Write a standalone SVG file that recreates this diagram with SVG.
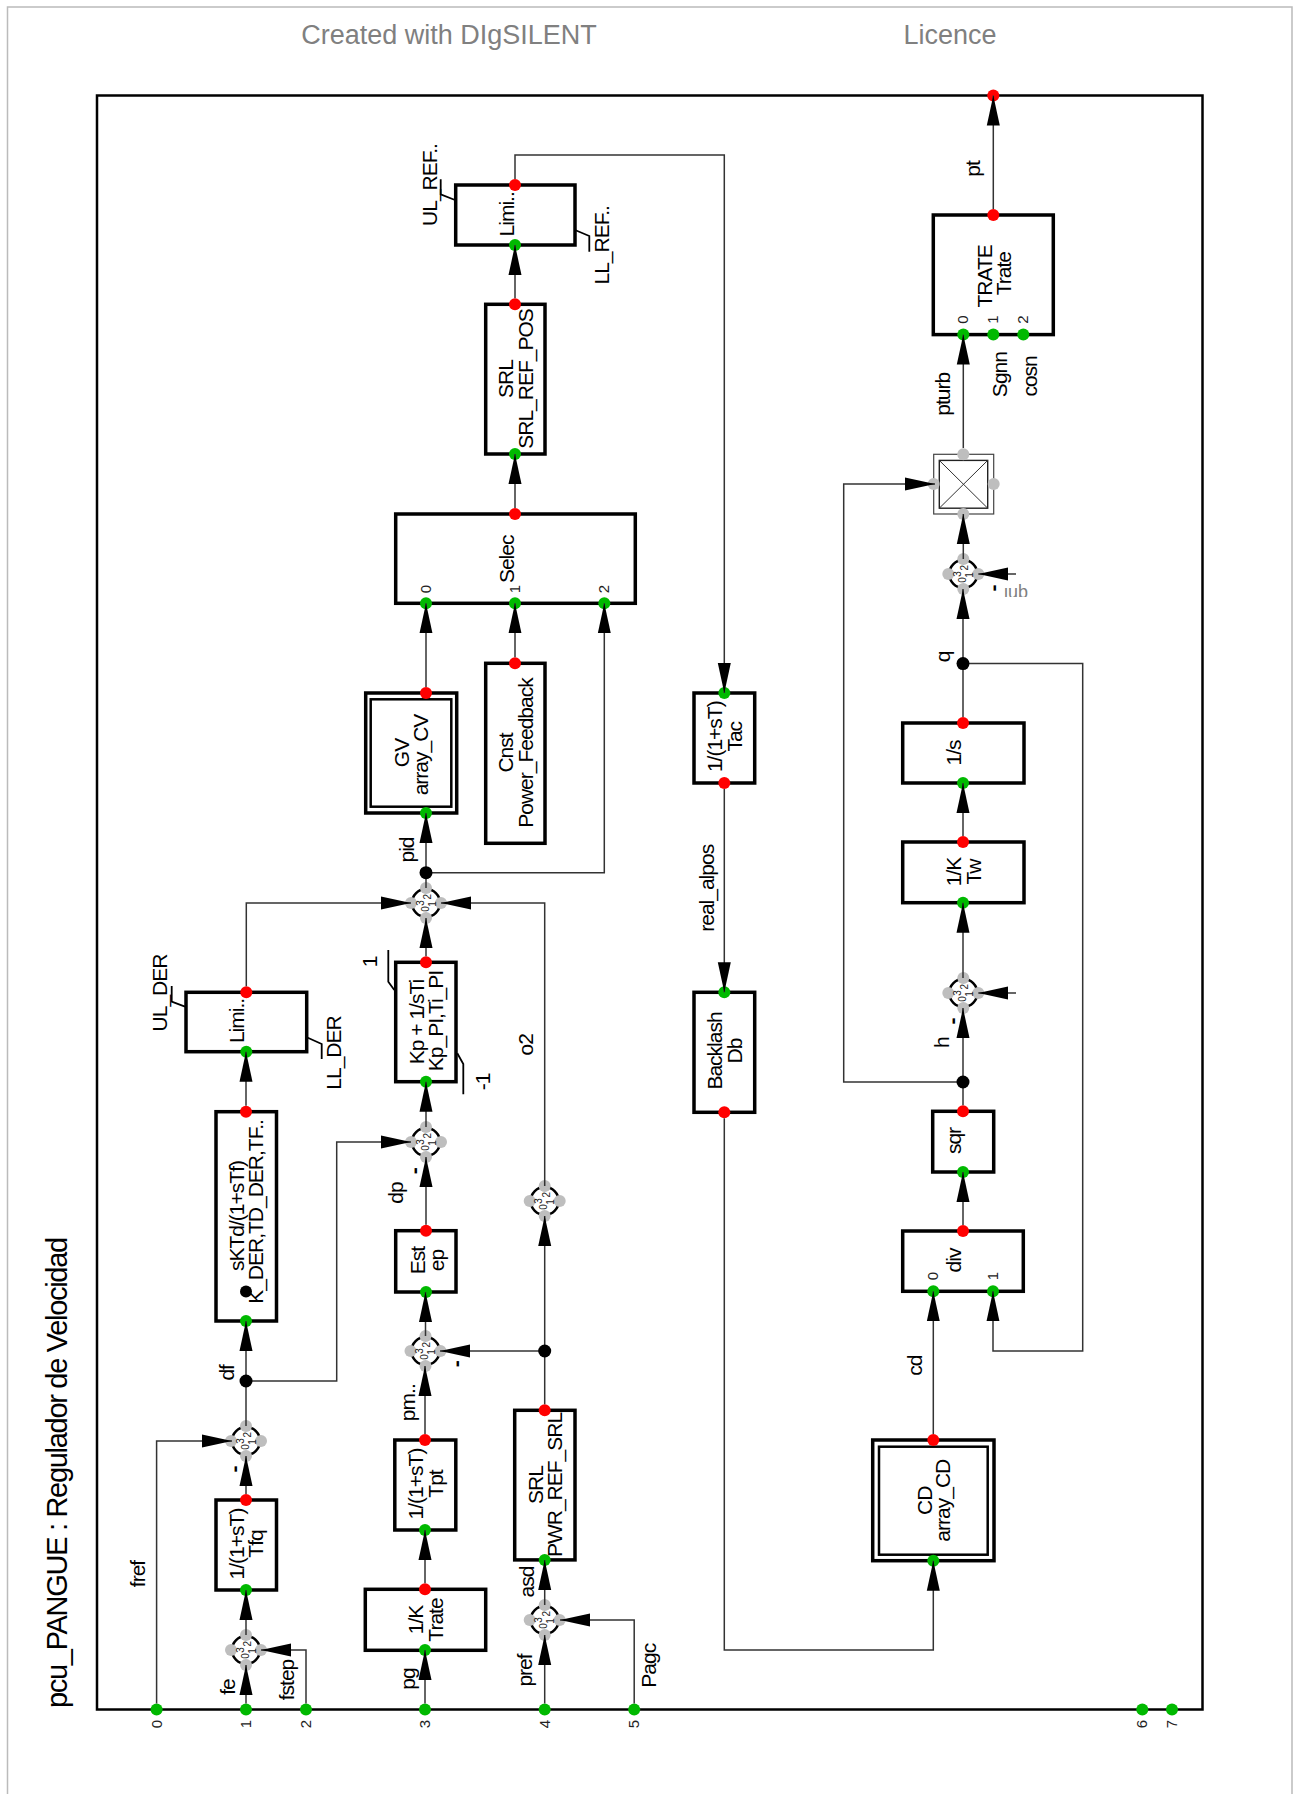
<svg xmlns="http://www.w3.org/2000/svg" width="1293" height="1794" viewBox="0 0 1293 1794">
<style>
text{font-family:"Liberation Sans",Arial,sans-serif;fill:#000}
.l{font-size:21px;letter-spacing:-1px;text-anchor:middle}
.m{font-size:21px;font-weight:bold;text-anchor:middle}
.p{font-size:15px;text-anchor:middle;fill:#222}
.s{font-size:10px;text-anchor:middle;fill:#222}
.h{font-size:27px;text-anchor:middle;fill:#808080}
.b{fill:#fff;stroke:#000;stroke-width:3.5}
.i{fill:none;stroke:#000;stroke-width:2.5}
.c{fill:none;stroke:#333;stroke-width:1.5}
.a{marker-end:url(#arrow)}
.t{fill:none;stroke:#000;stroke-width:1.8}
.g{fill:#00b900}.r{fill:#f00}.y{fill:#bebebe}.k{fill:#000}
.o{fill:#fff;stroke:#000;stroke-width:2.5}
</style>
<defs>
<marker id="arrow" markerUnits="userSpaceOnUse" markerWidth="30" markerHeight="14" refX="30" refY="7" orient="auto"><path d="M0 0.5L30 7L0 13.5Z" fill="#000"/></marker>
<clipPath id="qnlclip"><rect x="990" y="570" width="50" height="27"/></clipPath>
</defs>
<rect width="1293" height="1794" fill="#fff"/>
<path id="page" d="M7.5 1794V7H1292V1794" fill="none" stroke="#bbb" stroke-width="1.5"/>
<text class="h" x="449" y="44">Created with DIgSILENT</text>
<text class="h" x="950" y="44">Licence</text>
<text id="title" font-size="29" letter-spacing="-1.3" text-anchor="start" transform="rotate(-90 67 1708)" x="67" y="1708">pcu_PANGUE : Regulador de Velocidad</text>
<g id="frame">
<rect x="97" y="95.5" width="1105.5" height="1614" fill="none" stroke="#000" stroke-width="2.5"/>
<circle class="g" cx="156.6" cy="1709.5" r="6"/><circle class="g" cx="246" cy="1709.5" r="6"/><circle class="g" cx="306" cy="1709.5" r="6"/><circle class="g" cx="425" cy="1709.5" r="6"/><circle class="g" cx="544.7" cy="1709.5" r="6"/><circle class="g" cx="634.2" cy="1709.5" r="6"/><circle class="g" cx="1142.3" cy="1709.5" r="6"/><circle class="g" cx="1172" cy="1709.5" r="6"/><circle class="r" cx="993.3" cy="95.5" r="6"/>
<text class="p" transform="rotate(-90 161.6 1724)" x="161.6" y="1724">0</text>
<text class="p" transform="rotate(-90 251 1724)" x="251" y="1724">1</text>
<text class="p" transform="rotate(-90 311 1724)" x="311" y="1724">2</text>
<text class="p" transform="rotate(-90 430 1724)" x="430" y="1724">3</text>
<text class="p" transform="rotate(-90 549.7 1724)" x="549.7" y="1724">4</text>
<text class="p" transform="rotate(-90 639.2 1724)" x="639.2" y="1724">5</text>
<text class="p" transform="rotate(-90 1147.3 1724)" x="1147.3" y="1724">6</text>
<text class="p" transform="rotate(-90 1177 1724)" x="1177" y="1724">7</text>
</g>
<g id="node-tfq"><rect class="b" x="216" y="1500" width="60.5" height="90"/><circle class="g" cx="246" cy="1590" r="6"/><circle class="r" cx="246" cy="1500" r="6"/>
<text class="l" transform="rotate(-90 244 1544)" x="244" y="1544">1/(1+sT)</text><text class="l" transform="rotate(-90 263.4 1544)" x="263.4" y="1544">Tfq</text></g>
<g id="node-der"><rect class="b" x="216" y="1111.7" width="60.5" height="209.3"/><circle class="g" cx="246" cy="1321" r="6"/><circle class="r" cx="246" cy="1111.7" r="6"/>
<text class="l" transform="rotate(-90 244 1216)" x="244" y="1216">sKTd/(1+sTf)</text><text class="l" transform="rotate(-90 263.4 1212)" x="263.4" y="1212">K_DER,TD_DER,TF..</text><circle class="k" cx="246" cy="1291.6" r="6"/></g>
<g id="node-limder"><rect class="b" x="186" y="992.3" width="120.7" height="59.4"/><circle class="g" cx="246.3" cy="1051.7" r="6"/><circle class="r" cx="246.3" cy="992.3" r="6"/>
<text class="l" transform="rotate(-90 244.3 1021)" x="244.3" y="1021">Limi..</text>
<path class="t" d="M185 1006.7L171.7 1001.7V986M306.7 1037.3L321.7 1044V1059"/></g>
<g id="node-kp"><rect class="b" x="395.7" y="962.3" width="60.3" height="119.4"/><circle class="g" cx="426" cy="1081.7" r="6"/><circle class="r" cx="426" cy="962.3" r="6"/>
<text class="l" transform="rotate(-90 424 1022)" x="424" y="1022">Kp + 1/sTi</text><text class="l" transform="rotate(-90 443.4 1021)" x="443.4" y="1021">Kp_PI,Ti_PI</text>
<path class="t" d="M394.3 990L388.3 981.7V950M457.3 1053.3L463.3 1064V1094.3"/></g>
<g id="node-est"><rect class="b" x="395.7" y="1230.7" width="60.3" height="61.3"/><circle class="g" cx="426" cy="1292" r="6"/><circle class="r" cx="426" cy="1230.7" r="6"/>
<text class="l" transform="rotate(-90 425 1260.5)" x="425" y="1260.5">Est</text><text class="l" transform="rotate(-90 444 1260.5)" x="444" y="1260.5">ep</text></g>
<g id="node-tpt"><rect class="b" x="394.8" y="1440" width="61" height="90"/><circle class="g" cx="425" cy="1530" r="6"/><circle class="r" cx="425" cy="1440" r="6"/>
<text class="l" transform="rotate(-90 423 1484)" x="423" y="1484">1/(1+sT)</text><text class="l" transform="rotate(-90 443 1484)" x="443" y="1484">Tpt</text></g>
<g id="node-trate"><rect class="b" x="365.3" y="1589.3" width="120.4" height="61"/><circle class="g" cx="425" cy="1650" r="6"/><circle class="r" cx="425" cy="1589.3" r="6"/>
<text class="l" transform="rotate(-90 423 1620)" x="423" y="1620">1/K</text><text class="l" transform="rotate(-90 443 1620)" x="443" y="1620">Trate</text></g>
<g id="node-srlpwr"><rect class="b" x="514.7" y="1410.3" width="60.3" height="149.6"/><circle class="g" cx="544.7" cy="1559.9" r="6"/><circle class="r" cx="544.7" cy="1410.3" r="6"/>
<text class="l" transform="rotate(-90 542.7 1485)" x="542.7" y="1485">SRL</text><text class="l" transform="rotate(-90 562 1485)" x="562" y="1485">PWR_REF_SRL</text></g>
<g id="node-limref"><rect class="b" x="455.7" y="185" width="119.3" height="60"/><circle class="g" cx="515" cy="245" r="6"/><circle class="r" cx="515" cy="185" r="6"/>
<text class="l" transform="rotate(-90 514 214.3)" x="514" y="214.3">Limi..</text>
<path class="t" d="M455 200L440.7 194.3V179.3M575 230L589.3 236V251.7"/></g>
<g id="node-srlpos"><rect class="b" x="485.7" y="304.3" width="59.3" height="149.7"/><circle class="g" cx="515" cy="454" r="6"/><circle class="r" cx="515" cy="304.3" r="6"/>
<text class="l" transform="rotate(-90 513.3 379)" x="513.3" y="379">SRL</text><text class="l" transform="rotate(-90 532.7 379)" x="532.7" y="379">SRL_REF_POS</text></g>
<g id="node-selec"><rect class="b" x="395.7" y="514" width="239.6" height="89.3"/><circle class="g" cx="426" cy="603.3" r="6"/><circle class="g" cx="515" cy="603.3" r="6"/><circle class="g" cx="604.3" cy="603.3" r="6"/><circle class="r" cx="515" cy="514" r="6"/>
<text class="l" transform="rotate(-90 514 559.3)" x="514" y="559.3">Selec</text>
<text class="p" transform="rotate(-90 431 589)" x="431" y="589">0</text><text class="p" transform="rotate(-90 520 589)" x="520" y="589">1</text><text class="p" transform="rotate(-90 609 589)" x="609" y="589">2</text></g>
<g id="node-gv"><rect class="b" x="365.7" y="693" width="91" height="120"/><rect class="i" x="370.7" y="699.3" width="80.6" height="107.4"/><circle class="g" cx="426" cy="813" r="6"/><circle class="r" cx="426" cy="693" r="6"/>
<text class="l" transform="rotate(-90 409.3 753)" x="409.3" y="753">GV</text><text class="l" transform="rotate(-90 428.3 755)" x="428.3" y="755">array_CV</text></g>
<g id="node-cnst"><rect class="b" x="485.7" y="663.3" width="59.3" height="180"/><circle class="r" cx="515" cy="663.3" r="6"/>
<text class="l" transform="rotate(-90 513.3 753)" x="513.3" y="753">Cnst</text><text class="l" transform="rotate(-90 532.7 753)" x="532.7" y="753">Power_Feedback</text></g>
<g id="node-tac"><rect class="b" x="694" y="693" width="60.7" height="90"/><circle class="g" cx="724.3" cy="693" r="6"/><circle class="r" cx="724.3" cy="783" r="6"/>
<text class="l" transform="rotate(-90 722 736.7)" x="722" y="736.7">1/(1+sT)</text><text class="l" transform="rotate(-90 741.7 736.7)" x="741.7" y="736.7">Tac</text></g>
<g id="node-backlash"><rect class="b" x="694" y="992.3" width="60.7" height="120"/><circle class="g" cx="724.3" cy="992.3" r="6"/><circle class="r" cx="724.3" cy="1112.3" r="6"/>
<text class="l" transform="rotate(-90 721.7 1051)" x="721.7" y="1051">Backlash</text><text class="l" transform="rotate(-90 741.7 1051)" x="741.7" y="1051">Db</text></g>
<g id="node-cd"><rect class="b" x="872.7" y="1440" width="121.3" height="120.7"/><rect class="i" x="879" y="1446.7" width="108.7" height="108"/><circle class="g" cx="933.3" cy="1560.7" r="6"/><circle class="r" cx="933.3" cy="1440" r="6"/>
<text class="l" transform="rotate(-90 931.7 1500.7)" x="931.7" y="1500.7">CD</text><text class="l" transform="rotate(-90 950 1500.7)" x="950" y="1500.7">array_CD</text></g>
<g id="node-div"><rect class="b" x="902.7" y="1231" width="120.6" height="60.3"/><circle class="g" cx="933.3" cy="1291.3" r="6"/><circle class="g" cx="993" cy="1291.3" r="6"/><circle class="r" cx="963" cy="1231" r="6"/>
<text class="l" transform="rotate(-90 961 1260.5)" x="961" y="1260.5">div</text>
<text class="p" transform="rotate(-90 938.3 1276)" x="938.3" y="1276">0</text><text class="p" transform="rotate(-90 998.3 1276)" x="998.3" y="1276">1</text></g>
<g id="node-sqr"><rect class="b" x="932.7" y="1111.3" width="61" height="60.7"/><circle class="g" cx="963" cy="1172" r="6"/><circle class="r" cx="963" cy="1111.3" r="6"/>
<text class="l" transform="rotate(-90 961 1141)" x="961" y="1141">sqr</text></g>
<g id="node-tw"><rect class="b" x="902.7" y="842" width="121.3" height="60.7"/><circle class="g" cx="963" cy="902.7" r="6"/><circle class="r" cx="963" cy="842" r="6"/>
<text class="l" transform="rotate(-90 961 872)" x="961" y="872">1/K</text><text class="l" transform="rotate(-90 980.5 872)" x="980.5" y="872">Tw</text></g>
<g id="node-int"><rect class="b" x="902.7" y="723" width="121.3" height="60"/><circle class="g" cx="963" cy="783" r="6"/><circle class="r" cx="963" cy="723" r="6"/>
<text class="l" transform="rotate(-90 961 753)" x="961" y="753">1/s</text></g>
<g id="node-trate2"><rect class="b" x="933.3" y="215" width="120" height="119.6"/><circle class="g" cx="963.3" cy="334.6" r="6"/><circle class="g" cx="993.3" cy="334.6" r="6"/><circle class="g" cx="1023.3" cy="334.6" r="6"/><circle class="r" cx="993.3" cy="215" r="6"/>
<text class="l" transform="rotate(-90 991.7 276.4)" x="991.7" y="276.4">TRATE</text><text class="l" transform="rotate(-90 1011 273.6)" x="1011" y="273.6">Trate</text>
<text class="p" transform="rotate(-90 968.3 319.6)" x="968.3" y="319.6">0</text><text class="p" transform="rotate(-90 998.3 319.6)" x="998.3" y="319.6">1</text><text class="p" transform="rotate(-90 1028.3 319.6)" x="1028.3" y="319.6">2</text></g>
<g id="node-mult"><rect x="933.7" y="454.3" width="60" height="59.7" fill="#fff" stroke="#444" stroke-width="1.2"/><rect x="939.3" y="460.4" width="48.4" height="47.8" fill="#fff" stroke="#222" stroke-width="1.4"/><path d="M939.3 460.4L987.7 508.2M987.7 460.4L939.3 508.2" stroke="#333" stroke-width="1" fill="none"/><circle class="y" cx="963.3" cy="454.3" r="6"/><circle class="y" cx="963.3" cy="514" r="6"/><circle class="y" cx="933.7" cy="484" r="6"/><circle class="y" cx="993.7" cy="484" r="6"/></g>
<g id="sum-fe"><circle class="o" cx="246" cy="1650" r="14"/><circle class="y" cx="246" cy="1635" r="6"/><circle class="y" cx="246" cy="1665" r="6"/><circle class="y" cx="231" cy="1650" r="6"/><circle class="y" cx="261" cy="1650" r="6"/><text class="s" transform="rotate(-90 243.5 1650)" x="243.5" y="1650">3</text><text class="s" transform="rotate(-90 251 1643.7)" x="251" y="1643.7">2</text><text class="s" transform="rotate(-90 248.5 1656)" x="248.5" y="1656">0</text><text class="s" transform="rotate(-90 255.5 1651)" x="255.5" y="1651">1</text></g>
<g id="sum-df"><circle class="o" cx="246" cy="1441" r="14"/><circle class="y" cx="246" cy="1426" r="6"/><circle class="y" cx="246" cy="1456" r="6"/><circle class="y" cx="231" cy="1441" r="6"/><circle class="y" cx="261" cy="1441" r="6"/><text class="s" transform="rotate(-90 243.5 1441)" x="243.5" y="1441">3</text><text class="s" transform="rotate(-90 251 1434.7)" x="251" y="1434.7">2</text><text class="s" transform="rotate(-90 248.5 1447)" x="248.5" y="1447">0</text><text class="s" transform="rotate(-90 255.5 1442)" x="255.5" y="1442">1</text></g>
<g id="sum-est"><circle class="o" cx="425.5" cy="1351" r="14"/><circle class="y" cx="425.5" cy="1336" r="6"/><circle class="y" cx="425.5" cy="1366" r="6"/><circle class="y" cx="410.5" cy="1351" r="6"/><circle class="y" cx="440.5" cy="1351" r="6"/><text class="s" transform="rotate(-90 423 1351)" x="423" y="1351">3</text><text class="s" transform="rotate(-90 430.5 1344.7)" x="430.5" y="1344.7">2</text><text class="s" transform="rotate(-90 428 1357)" x="428" y="1357">0</text><text class="s" transform="rotate(-90 435 1352)" x="435" y="1352">1</text></g>
<g id="sum-dp"><circle class="o" cx="426" cy="1142" r="14"/><circle class="y" cx="426" cy="1127" r="6"/><circle class="y" cx="426" cy="1157" r="6"/><circle class="y" cx="411" cy="1142" r="6"/><circle class="y" cx="441" cy="1142" r="6"/><text class="s" transform="rotate(-90 423.5 1142)" x="423.5" y="1142">3</text><text class="s" transform="rotate(-90 431 1135.7)" x="431" y="1135.7">2</text><text class="s" transform="rotate(-90 428.5 1148)" x="428.5" y="1148">0</text><text class="s" transform="rotate(-90 435.5 1143)" x="435.5" y="1143">1</text></g>
<g id="sum-pid"><circle class="o" cx="426" cy="903" r="14"/><circle class="y" cx="426" cy="888" r="6"/><circle class="y" cx="426" cy="918" r="6"/><circle class="y" cx="411" cy="903" r="6"/><circle class="y" cx="441" cy="903" r="6"/><text class="s" transform="rotate(-90 423.5 903)" x="423.5" y="903">3</text><text class="s" transform="rotate(-90 431 896.7)" x="431" y="896.7">2</text><text class="s" transform="rotate(-90 428.5 909)" x="428.5" y="909">0</text><text class="s" transform="rotate(-90 435.5 904)" x="435.5" y="904">1</text></g>
<g id="sum-o2"><circle class="o" cx="544.7" cy="1201" r="14"/><circle class="y" cx="544.7" cy="1186" r="6"/><circle class="y" cx="544.7" cy="1216" r="6"/><circle class="y" cx="529.7" cy="1201" r="6"/><circle class="y" cx="559.7" cy="1201" r="6"/><text class="s" transform="rotate(-90 542.2 1201)" x="542.2" y="1201">3</text><text class="s" transform="rotate(-90 549.7 1194.7)" x="549.7" y="1194.7">2</text><text class="s" transform="rotate(-90 547.2 1207)" x="547.2" y="1207">0</text><text class="s" transform="rotate(-90 554.2 1202)" x="554.2" y="1202">1</text></g>
<g id="sum-pref"><circle class="o" cx="544.7" cy="1620" r="14"/><circle class="y" cx="544.7" cy="1605" r="6"/><circle class="y" cx="544.7" cy="1635" r="6"/><circle class="y" cx="529.7" cy="1620" r="6"/><circle class="y" cx="559.7" cy="1620" r="6"/><text class="s" transform="rotate(-90 542.2 1620)" x="542.2" y="1620">3</text><text class="s" transform="rotate(-90 549.7 1613.7)" x="549.7" y="1613.7">2</text><text class="s" transform="rotate(-90 547.2 1626)" x="547.2" y="1626">0</text><text class="s" transform="rotate(-90 554.2 1621)" x="554.2" y="1621">1</text></g>
<g id="sum-h"><circle class="o" cx="963.3" cy="993" r="14"/><circle class="y" cx="963.3" cy="978" r="6"/><circle class="y" cx="963.3" cy="1008" r="6"/><circle class="y" cx="948.3" cy="993" r="6"/><circle class="y" cx="978.3" cy="993" r="6"/><text class="s" transform="rotate(-90 960.8 993)" x="960.8" y="993">3</text><text class="s" transform="rotate(-90 968.3 986.7)" x="968.3" y="986.7">2</text><text class="s" transform="rotate(-90 965.8 999)" x="965.8" y="999">0</text><text class="s" transform="rotate(-90 972.8 994)" x="972.8" y="994">1</text></g>
<g id="sum-ub"><circle class="o" cx="963.3" cy="574" r="14"/><circle class="y" cx="963.3" cy="559" r="6"/><circle class="y" cx="963.3" cy="589" r="6"/><circle class="y" cx="948.3" cy="574" r="6"/><circle class="y" cx="978.3" cy="574" r="6"/><text class="s" transform="rotate(-90 960.8 574)" x="960.8" y="574">3</text><text class="s" transform="rotate(-90 968.3 567.7)" x="968.3" y="567.7">2</text><text class="s" transform="rotate(-90 965.8 580)" x="965.8" y="580">0</text><text class="s" transform="rotate(-90 972.8 575)" x="972.8" y="575">1</text></g>
<g id="connectors">
<path class="c a" d="M156.6 1703.5V1441H232"/>
<path class="c a" d="M246 1703.5V1665"/>
<path class="c a" d="M306 1703.5V1650H261"/>
<path class="c a" d="M246 1635V1590"/>
<path class="c a" d="M246 1494V1456"/>
<path class="c a" d="M246 1426V1321"/>
<path class="c a" d="M246 1381H336.7V1142H411"/>
<path class="c a" d="M246 1105.7V1051.7"/>
<path class="c a" d="M246.3 986.3V903H411"/>
<path class="c a" d="M425 1703.5V1650"/>
<path class="c a" d="M425 1583.3V1530"/>
<path class="c a" d="M425 1434V1366"/>
<path class="c a" d="M425.5 1336V1292"/>
<path class="c a" d="M426 1224.7V1157"/>
<path class="c a" d="M426 1127V1081.7"/>
<path class="c a" d="M426 956.3V918"/>
<path class="c a" d="M426 888V813"/>
<path class="c a" d="M426 872.7H604.3V603.3"/>
<path class="c a" d="M426 687V603.3"/>
<path class="c a" d="M515 657.3V603.3"/>
<path class="c a" d="M515 508V454"/>
<path class="c a" d="M515 298.3V245"/>
<path class="c a" d="M515 179V155H724.3V693"/>
<path class="c a" d="M724.3 789V992.3"/>
<path class="c a" d="M724.3 1118.3V1650H933.3V1560.7"/>
<path class="c a" d="M933.3 1434V1291.3"/>
<path class="c a" d="M963 1225V1172"/>
<path class="c a" d="M963 1105.3V1008"/>
<path class="c a" d="M963 1082H843.7V484H935"/>
<path class="c a" d="M963 978V902.7"/>
<path class="c a" d="M963 836V783"/>
<path class="c a" d="M963 717V589"/>
<path class="c a" d="M963 663.6H1082.7V1351H993V1291.3"/>
<path class="c a" d="M963.3 559V514"/>
<path class="c a" d="M963.3 448V334.6"/>
<path class="c a" d="M993.3 209V95.5"/>
<path class="c a" d="M544.7 1703.5V1635"/>
<path class="c a" d="M634.2 1703.5V1620H560"/>
<path class="c a" d="M544.7 1605V1560"/>
<path class="c a" d="M544.7 1404.3V1216"/>
<path class="c a" d="M544.7 1351H440"/>
<path class="c a" d="M544.7 1186V903H441"/>
<path class="c a" d="M1016 993H978.3"/>
<path class="c a" d="M1016 574H978.3"/>
<circle class="k" cx="246" cy="1381" r="6.5"/>
<circle class="k" cx="426" cy="872.7" r="6.5"/>
<circle class="k" cx="544.7" cy="1351" r="6.5"/>
<circle class="k" cx="963" cy="1082" r="6.5"/>
<circle class="k" cx="963" cy="663.6" r="6.5"/>
</g>
<g id="labels">
<text class="l" transform="rotate(-90 145.2 1574)" x="145.2" y="1574">fref</text>
<text class="l" transform="rotate(-90 235 1687)" x="235" y="1687">fe</text>
<text class="l" transform="rotate(-90 294 1680)" x="294" y="1680">fstep</text>
<text class="l" transform="rotate(-90 415 1679)" x="415" y="1679">pg</text>
<text class="l" transform="rotate(-90 532 1670.5)" x="532" y="1670.5">pref</text>
<text class="l" transform="rotate(-90 533.7 1582)" x="533.7" y="1582">asd</text>
<text class="l" transform="rotate(-90 656 1665.7)" x="656" y="1665.7">Pagc</text>
<text class="l" transform="rotate(-90 414.6 1402.7)" x="414.6" y="1402.7">pm..</text>
<text class="l" transform="rotate(-90 233.6 1372.8)" x="233.6" y="1372.8">df</text>
<text class="l" transform="rotate(-90 533.3 1044.7)" x="533.3" y="1044.7">o2</text>
<text class="l" transform="rotate(-90 376.7 962)" x="376.7" y="962">1</text>
<text class="l" transform="rotate(-90 490 1082)" x="490" y="1082">-1</text>
<text class="l" transform="rotate(-90 167.3 993)" x="167.3" y="993">UL_DER</text>
<text class="l" transform="rotate(-90 341 1053)" x="341" y="1053">LL_DER</text>
<text class="l" transform="rotate(-90 437.3 185)" x="437.3" y="185">UL_REF..</text>
<text class="l" transform="rotate(-90 609.3 245.3)" x="609.3" y="245.3">LL_REF..</text>
<text class="l" transform="rotate(-90 414 850)" x="414" y="850">pid</text>
<text class="l" transform="rotate(-90 402.5 1193)" x="402.5" y="1193">dp</text>
<text class="l" transform="rotate(-90 714 888.3)" x="714" y="888.3">real_alpos</text>
<text class="l" transform="rotate(-90 979.5 169)" x="979.5" y="169">pt</text>
<text class="l" transform="rotate(-90 950.5 394.3)" x="950.5" y="394.3">pturb</text>
<text class="l" transform="rotate(-90 1007 374.6)" x="1007" y="374.6">Sgnn</text>
<text class="l" transform="rotate(-90 1037.3 376.4)" x="1037.3" y="376.4">cosn</text>
<text class="l" transform="rotate(-90 949.3 1042.7)" x="949.3" y="1042.7">h</text>
<text class="l" transform="rotate(-90 950 657)" x="950" y="657">q</text>
<text class="l" transform="rotate(-90 921.7 1365.7)" x="921.7" y="1365.7">cd</text>
<text class="m" transform="rotate(-90 241 1469)" x="241" y="1469">-</text>
<text class="m" transform="rotate(-90 463.3 1363.8)" x="463.3" y="1363.8">-</text>
<text class="m" transform="rotate(-90 421.3 1170.7)" x="421.3" y="1170.7">-</text>
<text class="m" transform="rotate(-90 958.6 1021)" x="958.6" y="1021">-</text>
<text class="m" transform="rotate(-90 1000.3 588)" x="1000.3" y="588">-</text>
<g clip-path="url(#qnlclip)"><text font-size="18" style="fill:#808080" transform="rotate(180 1028 588)" x="1028" y="588">qnl</text></g>
</g>
</svg>
